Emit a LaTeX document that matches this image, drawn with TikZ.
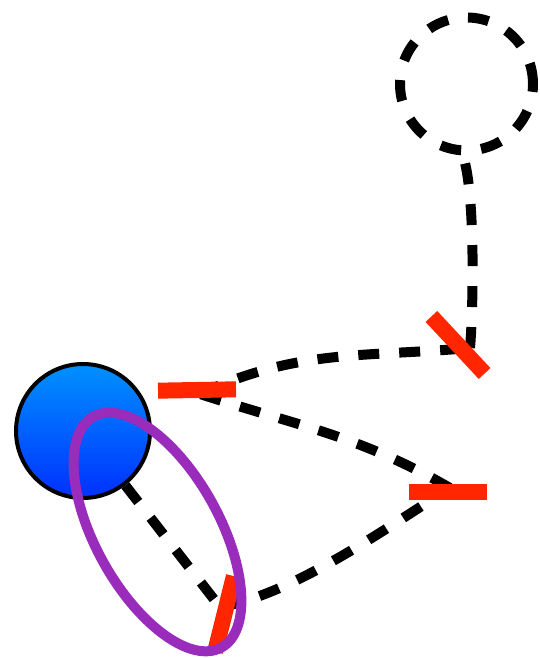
\documentclass[tikz,border=0pt]{standalone}
\usepackage{xcolor}
\usepackage{tikz}
\usetikzlibrary{positioning}

\definecolor{barred}{RGB}{255,38,0}
\definecolor{ringpurple}{RGB}{153,44,187}
\definecolor{celltop}{RGB}{0,145,255}
\definecolor{cellbottom}{RGB}{0,48,255}

\begin{document}
\begin{tikzpicture}[x=1pt,y=1pt,
    trail/.style={line width=10pt,dash pattern=on 21pt off 20pt},
    tick/.style={rectangle,fill=barred,minimum width=78pt,minimum height=16pt,inner sep=0pt}]
  \useasboundingbox (0,0) rectangle (540,658);
  % the two round nodes
  \node[circle,draw,line width=4pt,minimum size=134pt,top color=celltop,bottom color=cellbottom] (cell) at (83,227) {};
  \node[circle,draw,trail,minimum size=133pt] (loop) at (466.5,574) {};
  % junctions along the chain
  \coordinate (j1) at (220,51);
  \coordinate (j2) at (450,170);
  \coordinate (j3) at (200,264);
  \coordinate (j4) at (470,310);
  % dashed chain
  \draw[trail] (cell) -- (j1);
  \draw[trail] (j1) to[out=10,in=212,looseness=0.75] (j2);
  \draw[trail] (j2) to[out=150,in=-18] (j3);
  \draw[trail] (j3) to[out=25,in=185] (j4);
  \draw[trail] (j4) to[out=85,in=-70,looseness=0.5] (loop.-93);
  % red ticks on the junctions
  \node[tick,rotate=76] (tick1) at (224.5,44) {};
  \node[tick] (tick2) at (447.5,166) {};
  \node[tick,rotate=1] (tick3) at (197,268) {};
  \node[tick,rotate=-47] (tick4) at (458,313) {};
  % purple ring
  \draw[ringpurple,line width=10pt,rotate around={-61:(157.5,126)}] (157.5,126) ellipse (132 and 62);
\end{tikzpicture}
\end{document}
